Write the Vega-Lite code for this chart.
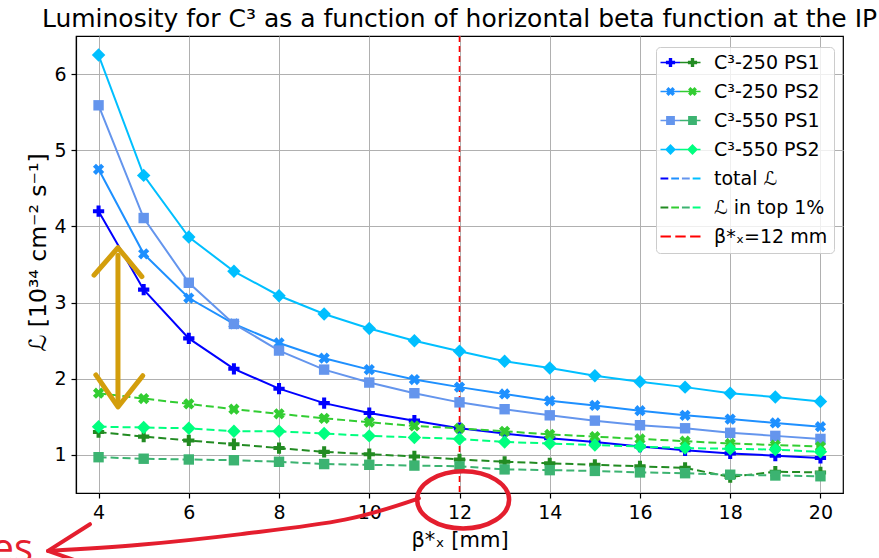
{
  "$schema": "https://vega.github.io/schema/vega-lite/v6.json",
  "width": 767,
  "height": 457,
  "autosize": {"type": "none"},
  "padding": {"left": 76, "top": 36, "right": 36, "bottom": 65},
  "background": "white",
  "title": {"text": "Luminosity for C³ as a function of horizontal beta function at the IP", "font": "DejaVu Sans", "fontSize": 25, "fontWeight": "normal", "color": "black", "anchor": "middle", "offset": 3},
  "datasets": {
    "lum": [
      {"beta": 4, "config": "C³-250 PS1", "total": 4.20, "top1": 1.30},
      {"beta": 5, "config": "C³-250 PS1", "total": 3.17, "top1": 1.24},
      {"beta": 6, "config": "C³-250 PS1", "total": 2.53, "top1": 1.19},
      {"beta": 7, "config": "C³-250 PS1", "total": 2.13, "top1": 1.14},
      {"beta": 8, "config": "C³-250 PS1", "total": 1.87, "top1": 1.09},
      {"beta": 9, "config": "C³-250 PS1", "total": 1.68, "top1": 1.04},
      {"beta": 10, "config": "C³-250 PS1", "total": 1.55, "top1": 1.01},
      {"beta": 11, "config": "C³-250 PS1", "total": 1.45, "top1": 0.98},
      {"beta": 12, "config": "C³-250 PS1", "total": 1.35, "top1": 0.94},
      {"beta": 13, "config": "C³-250 PS1", "total": 1.28, "top1": 0.91},
      {"beta": 14, "config": "C³-250 PS1", "total": 1.22, "top1": 0.89},
      {"beta": 15, "config": "C³-250 PS1", "total": 1.17, "top1": 0.87},
      {"beta": 16, "config": "C³-250 PS1", "total": 1.11, "top1": 0.85},
      {"beta": 17, "config": "C³-250 PS1", "total": 1.06, "top1": 0.83},
      {"beta": 18, "config": "C³-250 PS1", "total": 1.02, "top1": 0.71},
      {"beta": 19, "config": "C³-250 PS1", "total": 0.99, "top1": 0.78},
      {"beta": 20, "config": "C³-250 PS1", "total": 0.96, "top1": 0.77},
      {"beta": 4, "config": "C³-250 PS2", "total": 4.75, "top1": 1.81},
      {"beta": 5, "config": "C³-250 PS2", "total": 3.64, "top1": 1.74},
      {"beta": 6, "config": "C³-250 PS2", "total": 3.06, "top1": 1.67},
      {"beta": 7, "config": "C³-250 PS2", "total": 2.72, "top1": 1.60},
      {"beta": 8, "config": "C³-250 PS2", "total": 2.47, "top1": 1.54},
      {"beta": 9, "config": "C³-250 PS2", "total": 2.27, "top1": 1.48},
      {"beta": 10, "config": "C³-250 PS2", "total": 2.12, "top1": 1.43},
      {"beta": 11, "config": "C³-250 PS2", "total": 1.99, "top1": 1.38},
      {"beta": 12, "config": "C³-250 PS2", "total": 1.89, "top1": 1.35},
      {"beta": 13, "config": "C³-250 PS2", "total": 1.80, "top1": 1.31},
      {"beta": 14, "config": "C³-250 PS2", "total": 1.71, "top1": 1.27},
      {"beta": 15, "config": "C³-250 PS2", "total": 1.65, "top1": 1.24},
      {"beta": 16, "config": "C³-250 PS2", "total": 1.58, "top1": 1.21},
      {"beta": 17, "config": "C³-250 PS2", "total": 1.52, "top1": 1.18},
      {"beta": 18, "config": "C³-250 PS2", "total": 1.47, "top1": 1.15},
      {"beta": 19, "config": "C³-250 PS2", "total": 1.42, "top1": 1.13},
      {"beta": 20, "config": "C³-250 PS2", "total": 1.37, "top1": 1.11},
      {"beta": 4, "config": "C³-550 PS1", "total": 5.59, "top1": 0.97},
      {"beta": 5, "config": "C³-550 PS1", "total": 4.11, "top1": 0.95},
      {"beta": 6, "config": "C³-550 PS1", "total": 3.26, "top1": 0.94},
      {"beta": 7, "config": "C³-550 PS1", "total": 2.72, "top1": 0.93},
      {"beta": 8, "config": "C³-550 PS1", "total": 2.37, "top1": 0.91},
      {"beta": 9, "config": "C³-550 PS1", "total": 2.12, "top1": 0.88},
      {"beta": 10, "config": "C³-550 PS1", "total": 1.95, "top1": 0.87},
      {"beta": 11, "config": "C³-550 PS1", "total": 1.81, "top1": 0.86},
      {"beta": 12, "config": "C³-550 PS1", "total": 1.69, "top1": 0.85},
      {"beta": 13, "config": "C³-550 PS1", "total": 1.60, "top1": 0.81},
      {"beta": 14, "config": "C³-550 PS1", "total": 1.52, "top1": 0.80},
      {"beta": 15, "config": "C³-550 PS1", "total": 1.45, "top1": 0.79},
      {"beta": 16, "config": "C³-550 PS1", "total": 1.39, "top1": 0.77},
      {"beta": 17, "config": "C³-550 PS1", "total": 1.35, "top1": 0.76},
      {"beta": 18, "config": "C³-550 PS1", "total": 1.29, "top1": 0.74},
      {"beta": 19, "config": "C³-550 PS1", "total": 1.25, "top1": 0.73},
      {"beta": 20, "config": "C³-550 PS1", "total": 1.21, "top1": 0.72},
      {"beta": 4, "config": "C³-550 PS2", "total": 6.25, "top1": 1.37},
      {"beta": 5, "config": "C³-550 PS2", "total": 4.67, "top1": 1.36},
      {"beta": 6, "config": "C³-550 PS2", "total": 3.86, "top1": 1.35},
      {"beta": 7, "config": "C³-550 PS2", "total": 3.41, "top1": 1.31},
      {"beta": 8, "config": "C³-550 PS2", "total": 3.09, "top1": 1.31},
      {"beta": 9, "config": "C³-550 PS2", "total": 2.85, "top1": 1.28},
      {"beta": 10, "config": "C³-550 PS2", "total": 2.66, "top1": 1.25},
      {"beta": 11, "config": "C³-550 PS2", "total": 2.50, "top1": 1.23},
      {"beta": 12, "config": "C³-550 PS2", "total": 2.36, "top1": 1.21},
      {"beta": 13, "config": "C³-550 PS2", "total": 2.23, "top1": 1.17},
      {"beta": 14, "config": "C³-550 PS2", "total": 2.14, "top1": 1.15},
      {"beta": 15, "config": "C³-550 PS2", "total": 2.04, "top1": 1.13},
      {"beta": 16, "config": "C³-550 PS2", "total": 1.96, "top1": 1.11},
      {"beta": 17, "config": "C³-550 PS2", "total": 1.89, "top1": 1.09},
      {"beta": 18, "config": "C³-550 PS2", "total": 1.81, "top1": 1.08},
      {"beta": 19, "config": "C³-550 PS2", "total": 1.76, "top1": 1.07},
      {"beta": 20, "config": "C³-550 PS2", "total": 1.70, "top1": 1.04}
    ],
    "vline": [{"beta": 12}],
    "gold": [
      {"s": "shaft", "i": 0, "x": 4.43, "y": 3.62},
      {"s": "shaft", "i": 1, "x": 4.43, "y": 1.70},
      {"s": "up", "i": 0, "x": 3.90, "y": 3.36},
      {"s": "up", "i": 1, "x": 4.43, "y": 3.72},
      {"s": "up", "i": 2, "x": 4.96, "y": 3.34},
      {"s": "down", "i": 0, "x": 3.94, "y": 2.05},
      {"s": "down", "i": 1, "x": 4.43, "y": 1.63},
      {"s": "down", "i": 2, "x": 4.98, "y": 2.04}
    ],
    "circle": [{"x": 12.08, "y": 0.41}],
    "curve": [
      {"i": 0, "x": 11.10, "y": 0.43},
      {"i": 1, "x": 9.46, "y": 0.15},
      {"i": 2, "x": 7.16, "y": -0.04},
      {"i": 3, "x": 4.92, "y": -0.18},
      {"i": 4, "x": 2.88, "y": -0.26}
    ],
    "head": [
      {"i": 0, "x": 3.81, "y": 0.09},
      {"i": 1, "x": 2.88, "y": -0.26},
      {"i": 2, "x": 3.46, "y": -0.38}
    ],
    "note": [{"x": 2.55, "y": -0.41, "t": "es"}]
  },
  "layer": [
    {
      "data": {"name": "vline"},
      "mark": {"type": "rule", "strokeDash": [6, 4], "strokeWidth": 1.6},
      "encoding": {
        "x": {"field": "beta", "type": "quantitative", "scale": {"domain": [3.5, 20.5], "nice": false, "zero": false}, "axis": {"values": [4, 6, 8, 10, 12, 14, 16, 18, 20], "title": "β*ₓ [mm]"}},
        "color": {
          "datum": "β*ₓ=12 mm",
          "type": "nominal",
          "scale": {
            "domain": ["C³-250 PS1", "C³-250 PS2", "C³-550 PS1", "C³-550 PS2", "total ℒ", "ℒ in top 1%", "β*ₓ=12 mm"],
            "range": ["#0000ff", "#1e90ff", "#6495ed", "#00bfff", "#1e90ff", "#32cd32", "#ff0000"]
          },
          "legend": {
            "title": null,
            "orient": "none",
            "legendX": 580,
            "legendY": 11,
            "padding": 6,
            "fillColor": "rgba(255,255,255,0.8)",
            "strokeColor": "#cccccc",
            "cornerRadius": 4,
            "labelFont": "DejaVu Sans",
            "labelFontSize": 19,
            "labelColor": "black",
            "symbolOffset": -7,
            "labelOffset": 40,
            "labelLimit": 300,
            "symbolSize": 64,
            "symbolStrokeWidth": 0,
            "rowPadding": 9,
            "encode": {
              "symbols": {
                "update": {
                  "shape": {"signal": "['M-1,-0.2H9V0.2H-1Z M1.08,-1.15H1.92V-0.42H2.65V0.42H1.92V1.15H1.08V0.42H0.35V-0.42H1.08Z M6.58,-1.15H7.42V-0.42H8.15V0.42H7.42V1.15H6.58V0.42H5.85V-0.42H6.58Z', 'M-1,-0.2H9V0.2H-1Z M2.016,-1.11L2.61,-0.516L2.094,0L2.61,0.516L2.016,1.11L1.5,0.594L0.984,1.11L0.39,0.516L0.906,0L0.39,-0.516L0.984,-1.11L1.5,-0.594Z M7.516,-1.11L8.11,-0.516L7.594,0L8.11,0.516L7.516,1.11L7,0.594L6.484,1.11L5.89,0.516L6.406,0L5.89,-0.516L6.484,-1.11L7,-0.594Z', 'M-1,-0.2H9V0.2H-1Z M0.4,-1.1H2.6V1.1H0.4Z M5.9,-1.1H8.1V1.1H5.9Z', 'M-1,-0.2H9V0.2H-1Z M1.5,-1.35L2.85,0L1.5,1.35L0.15,0Z M7,-1.35L8.35,0L7,1.35L5.65,0Z', 'M-1,-0.22H0.95V0.22H-1Z M1.68,-0.22H3.63V0.22H1.68Z M4.36,-0.22H6.31V0.22H4.36Z M7.04,-0.22H9V0.22H7.04Z', 'M-1,-0.22H0.95V0.22H-1Z M1.68,-0.22H3.63V0.22H1.68Z M4.36,-0.22H6.31V0.22H4.36Z M7.04,-0.22H9V0.22H7.04Z', 'M-1,-0.22H1.6V0.22H-1Z M2.7,-0.22H5.3V0.22H2.7Z M6.4,-0.22H9V0.22H6.4Z'][datum.index]"},
                  "fill": {"signal": "[{gradient:'linear',x1:0,y1:0,x2:1,y2:0,stops:[{offset:0,color:'#0000ff'},{offset:0.5,color:'#0000ff'},{offset:0.5,color:'#228b22'},{offset:1,color:'#228b22'}]},{gradient:'linear',x1:0,y1:0,x2:1,y2:0,stops:[{offset:0,color:'#1e90ff'},{offset:0.5,color:'#1e90ff'},{offset:0.5,color:'#32cd32'},{offset:1,color:'#32cd32'}]},{gradient:'linear',x1:0,y1:0,x2:1,y2:0,stops:[{offset:0,color:'#6495ed'},{offset:0.5,color:'#6495ed'},{offset:0.5,color:'#3cb371'},{offset:1,color:'#3cb371'}]},{gradient:'linear',x1:0,y1:0,x2:1,y2:0,stops:[{offset:0,color:'#00bfff'},{offset:0.5,color:'#00bfff'},{offset:0.5,color:'#00ff7f'},{offset:1,color:'#00ff7f'}]},{gradient:'linear',x1:0,y1:0,x2:1,y2:0,stops:[{offset:0,color:'#0000ff'},{offset:0.23,color:'#0000ff'},{offset:0.23,color:'#1e90ff'},{offset:0.5,color:'#1e90ff'},{offset:0.5,color:'#6495ed'},{offset:0.77,color:'#6495ed'},{offset:0.77,color:'#00bfff'},{offset:1,color:'#00bfff'}]},{gradient:'linear',x1:0,y1:0,x2:1,y2:0,stops:[{offset:0,color:'#228b22'},{offset:0.23,color:'#228b22'},{offset:0.23,color:'#32cd32'},{offset:0.5,color:'#32cd32'},{offset:0.5,color:'#3cb371'},{offset:0.77,color:'#3cb371'},{offset:0.77,color:'#00ff7f'},{offset:1,color:'#00ff7f'}]},'#ff0000'][datum.index]"},
                  "stroke": {"value": "transparent"},
                  "strokeWidth": {"value": 0},
                  "opacity": {"value": 1},
                  "fillOpacity": {"value": 1}
                }
              }
            }
          }
        }
      }
    },
    {
      "data": {"name": "lum"},
      "encoding": {
        "x": {"field": "beta", "type": "quantitative", "scale": {"domain": [3.5, 20.5], "nice": false, "zero": false}, "axis": {"values": [4, 6, 8, 10, 12, 14, 16, 18, 20], "title": "β*ₓ [mm]"}},
        "y": {"field": "total", "type": "quantitative", "scale": {"domain": [0.5, 6.5], "nice": false, "zero": false}, "axis": {"values": [1, 2, 3, 4, 5, 6], "title": "ℒ [10³⁴ cm⁻² s⁻¹]"}},
        "color": {"field": "config", "type": "nominal", "scale": {"domain": ["C³-250 PS1", "C³-250 PS2", "C³-550 PS1", "C³-550 PS2"], "range": ["#0000ff", "#1e90ff", "#6495ed", "#00bfff"]}, "legend": null}
      },
      "layer": [
        {"mark": {"type": "line", "strokeWidth": 2}},
        {"mark": {"type": "point", "filled": true, "size": 150, "opacity": 1},
          "encoding": {"shape": {"field": "config", "type": "nominal", "scale": {"domain": ["C³-250 PS1", "C³-250 PS2", "C³-550 PS1", "C³-550 PS2"], "range": ["M-0.33,-0.92H0.33V-0.33H0.92V0.33H0.33V0.92H-0.33V0.33H-0.92V-0.33H-0.33Z", "M0.424,-0.919L0.919,-0.424L0.495,0L0.919,0.424L0.424,0.919L0,0.495L-0.424,0.919L-0.919,0.424L-0.495,0L-0.919,-0.424L-0.424,-0.919L0,-0.495Z", "M-0.85,-0.85H0.85V0.85H-0.85Z", "M0,-1.1L1.1,0L0,1.1L-1.1,0Z"]}, "legend": null}}}
      ]
    },
    {
      "data": {"name": "lum"},
      "encoding": {
        "x": {"field": "beta", "type": "quantitative", "axis": {"values": [4, 6, 8, 10, 12, 14, 16, 18, 20], "title": "β*ₓ [mm]"}},
        "y": {"field": "top1", "type": "quantitative", "axis": {"values": [1, 2, 3, 4, 5, 6], "title": "ℒ [10³⁴ cm⁻² s⁻¹]"}},
        "color": {"field": "config", "type": "nominal", "scale": {"domain": ["C³-250 PS1", "C³-250 PS2", "C³-550 PS1", "C³-550 PS2"], "range": ["#228b22", "#32cd32", "#3cb371", "#00ff7f"]}, "legend": null}
      },
      "layer": [
        {"mark": {"type": "line", "strokeWidth": 2, "strokeDash": [8, 4]}},
        {"mark": {"type": "point", "filled": true, "size": 150, "opacity": 1},
          "encoding": {"shape": {"field": "config", "type": "nominal", "legend": null}}}
      ]
    },
    {
      "data": {"name": "gold"},
      "mark": {"type": "line", "color": "#d39e0c", "strokeWidth": 5, "strokeCap": "round", "strokeJoin": "round"},
      "encoding": {
        "x": {"field": "x", "type": "quantitative", "axis": {"values": [4, 6, 8, 10, 12, 14, 16, 18, 20], "title": "β*ₓ [mm]"}},
        "y": {"field": "y", "type": "quantitative", "axis": {"values": [1, 2, 3, 4, 5, 6], "title": "ℒ [10³⁴ cm⁻² s⁻¹]"}},
        "detail": {"field": "s"},
        "order": {"field": "i"}
      }
    },
    {
      "data": {"name": "circle"},
      "mark": {"type": "point", "filled": false, "size": 8464, "strokeWidth": 4.5, "color": "#e41e2e", "opacity": 1, "shape": "M1,0C1,0.342 0.552,0.62 0,0.62C-0.552,0.62 -1,0.342 -1,0C-1,-0.342 -0.552,-0.62 0,-0.62C0.552,-0.62 1,-0.342 1,0Z"},
      "encoding": {
        "x": {"field": "x", "type": "quantitative", "axis": {"values": [4, 6, 8, 10, 12, 14, 16, 18, 20], "title": "β*ₓ [mm]"}},
        "y": {"field": "y", "type": "quantitative", "axis": {"values": [1, 2, 3, 4, 5, 6], "title": "ℒ [10³⁴ cm⁻² s⁻¹]"}}
      }
    },
    {
      "data": {"name": "curve"},
      "mark": {"type": "line", "color": "#e41e2e", "strokeWidth": 4, "interpolate": "cardinal", "strokeCap": "round"},
      "encoding": {
        "x": {"field": "x", "type": "quantitative", "axis": {"values": [4, 6, 8, 10, 12, 14, 16, 18, 20], "title": "β*ₓ [mm]"}},
        "y": {"field": "y", "type": "quantitative", "axis": {"values": [1, 2, 3, 4, 5, 6], "title": "ℒ [10³⁴ cm⁻² s⁻¹]"}},
        "order": {"field": "i"}
      }
    },
    {
      "data": {"name": "head"},
      "mark": {"type": "line", "color": "#e41e2e", "strokeWidth": 4, "strokeCap": "round", "strokeJoin": "round"},
      "encoding": {
        "x": {"field": "x", "type": "quantitative", "axis": {"values": [4, 6, 8, 10, 12, 14, 16, 18, 20], "title": "β*ₓ [mm]"}},
        "y": {"field": "y", "type": "quantitative", "axis": {"values": [1, 2, 3, 4, 5, 6], "title": "ℒ [10³⁴ cm⁻² s⁻¹]"}},
        "order": {"field": "i"}
      }
    },
    {
      "data": {"name": "note"},
      "mark": {"type": "text", "color": "#e41e2e", "font": "Open Sans", "fontSize": 40, "align": "right", "baseline": "alphabetic"},
      "encoding": {
        "x": {"field": "x", "type": "quantitative", "axis": {"values": [4, 6, 8, 10, 12, 14, 16, 18, 20], "title": "β*ₓ [mm]"}},
        "y": {"field": "y", "type": "quantitative", "axis": {"values": [1, 2, 3, 4, 5, 6], "title": "ℒ [10³⁴ cm⁻² s⁻¹]"}},
        "text": {"field": "t"}
      }
    }
  ],
  "resolve": {"scale": {"color": "independent"}},
  "config": {
    "font": "DejaVu Sans",
    "view": {"stroke": "black", "strokeWidth": 1.2},
    "axis": {"labelFont": "DejaVu Sans", "titleFont": "DejaVu Sans", "labelColor": "black", "titleColor": "black", "titleFontWeight": "normal", "domainColor": "black", "domainWidth": 1.2, "tickColor": "black", "tickWidth": 1.2, "tickSize": 5, "gridColor": "#b0b0b0", "gridWidth": 1, "grid": true, "labelFontSize": 19, "titleFontSize": 21, "labelPadding": 5, "labelFlush": false, "labelOverlap": false},
    "axisX": {"titleY": 53, "titleBaseline": "alphabetic"},
    "axisY": {"titleX": -31, "titleY": 216, "titleAngle": 270, "titleBaseline": "alphabetic", "titleAlign": "center", "titleFontSize": 23.5}
  }
}
